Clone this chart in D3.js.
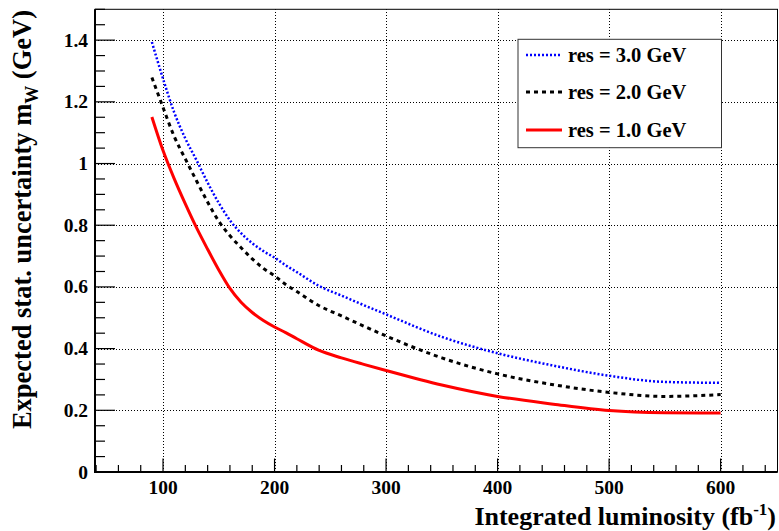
<!DOCTYPE html>
<html>
<head>
<meta charset="utf-8">
<script src="https://cdn.jsdelivr.net/npm/d3@7"></script>
<style>
  html, body { margin: 0; padding: 0; background: #fff; }
  svg { display: block; }
  text { font-family: "Liberation Serif", "Times New Roman", serif; font-weight: bold; fill: #000; }
</style>
</head>
<body>
<svg id="chart" width="779" height="531"></svg>
<script>
// ---- data ----
const lumi = [90, 100, 110, 120, 130, 140, 150, 160, 170, 180, 190, 200, 210, 220, 240, 260, 280, 300, 350, 400, 450, 500, 550, 600];
const res3 = [1.394, 1.275, 1.166, 1.081, 1.011, 0.938, 0.872, 0.816, 0.774, 0.742, 0.716, 0.695, 0.670, 0.648, 0.603, 0.572, 0.541, 0.511, 0.438, 0.385, 0.345, 0.312, 0.292, 0.289];
const res2 = [1.279, 1.182, 1.088, 1.015, 0.944, 0.875, 0.813, 0.766, 0.727, 0.691, 0.660, 0.636, 0.608, 0.585, 0.539, 0.506, 0.473, 0.441, 0.370, 0.318, 0.283, 0.258, 0.245, 0.251];
const res1 = [1.151, 1.042, 0.951, 0.869, 0.792, 0.722, 0.655, 0.595, 0.550, 0.517, 0.491, 0.470, 0.452, 0.432, 0.394, 0.370, 0.349, 0.329, 0.282, 0.245, 0.220, 0.199, 0.192, 0.191];
const seriesNames = ["res = 3.0 GeV", "res = 2.0 GeV", "res = 1.0 GeV"];
const xTicks = [100, 200, 300, 400, 500, 600];
const yTicks = [0, 0.2, 0.4, 0.6, 0.8, 1, 1.2, 1.4];
const xTitle = "Integrated luminosity (fb";
const yTitle = "Expected stat. uncertainty m";

// ---- layout ----
const svg = d3.select("#chart");
const L = 95, R = 777.5, T = 9.3, B = 472;
const x = d3.scaleLinear().domain([39, 651]).range([L, R]);
const y = d3.scaleLinear().domain([0, 1.5]).range([B, T]);
const px = v => Math.round(v) + 0.5;

// grid
const grid = svg.append("g");
grid.selectAll("line.gx").data(xTicks).join("line")
  .attr("x1", d => px(x(d))).attr("x2", d => px(x(d))).attr("y1", B).attr("y2", T)
  .attr("stroke", "#000").attr("stroke-width", 1).attr("stroke-dasharray", "1,2");
grid.selectAll("line.gy").data(yTicks.filter(d => d > 0)).join("line")
  .attr("x1", L).attr("x2", R).attr("y1", d => px(y(d))).attr("y2", d => px(y(d)))
  .attr("stroke", "#000").attr("stroke-width", 1).attr("stroke-dasharray", "1,2");

// curves
const styles = [
  { data: res3, color: "#0000ff", w: 2.5, dash: "2,2" },
  { data: res2, color: "#000000", w: 3, dash: "4,4" },
  { data: res1, color: "#ff0000", w: 3, dash: null }
];
const line = d3.line().x(d => x(d[0])).y(d => y(d[1])).curve(d3.curveMonotoneX);
styles.forEach(s => {
  svg.append("path")
    .attr("d", line(lumi.map((l, i) => [l, s.data[i]])))
    .attr("fill", "none").attr("stroke", s.color).attr("stroke-width", s.w)
    .attr("stroke-dasharray", s.dash);
});

// axes (ROOT-style inward ticks)
const xMinor = d3.range(40, 651, 20);
const yMinor = d3.range(0, 1.5001, 0.05);
const ax = svg.append("g");
ax.selectAll("line.xt").data(xMinor).join("line")
  .attr("x1", d => x(d)).attr("x2", d => x(d))
  .attr("y1", B).attr("y2", d => B - (Math.abs(d % 100) < 1e-6 ? 13.5 : 7))
  .attr("stroke", "#000").attr("stroke-width", 1.2);
ax.selectAll("line.yt").data(yMinor).join("line")
  .attr("y1", d => y(d)).attr("y2", d => y(d))
  .attr("x1", L).attr("x2", d => L + (Math.abs(Math.round(d * 20)) % 4 === 0 ? 20 : 10))
  .attr("stroke", "#000").attr("stroke-width", 1.2);

// frame
svg.append("rect").attr("x", L).attr("y", T).attr("width", R - L).attr("height", B - T)
  .attr("fill", "none").attr("stroke", "#000").attr("stroke-width", 1);
svg.append("line").attr("x1", L).attr("x2", L).attr("y1", T).attr("y2", B + 0.8).attr("stroke", "#000").attr("stroke-width", 2);
svg.append("line").attr("x1", L - 1).attr("x2", R).attr("y1", B).attr("y2", B).attr("stroke", "#000").attr("stroke-width", 2);

// tick labels
svg.selectAll("text.xl").data(xTicks).join("text")
  .attr("x", d => x(d)).attr("y", 494).attr("text-anchor", "middle")
  .attr("font-size", 19.5).text(d => d);
svg.selectAll("text.yl").data(yTicks).join("text")
  .attr("x", 88).attr("y", d => y(d) + 6.5).attr("text-anchor", "end")
  .attr("font-size", 19.5).text(d => d);

// axis titles
const xt = svg.append("text").attr("x", 776).attr("y", 525).attr("text-anchor", "end").attr("font-size", 26);
xt.append("tspan").text(xTitle);
xt.append("tspan").attr("dy", -10).attr("font-size", 17).text("-1");
xt.append("tspan").attr("dy", 10).text(")");

const yt = svg.append("text").attr("transform", "translate(31,10) rotate(-90)")
  .attr("text-anchor", "end").attr("font-size", 26.5);
yt.append("tspan").text(yTitle);
yt.append("tspan").attr("dy", 7).attr("font-size", 18).text("W");
yt.append("tspan").attr("dy", -7).text(" (GeV)");

// legend
const lg = svg.append("g");
lg.append("rect").attr("x", 518).attr("y", 39.3).attr("width", 203.5).attr("height", 108.4)
  .attr("fill", "#fff").attr("stroke", "#333").attr("stroke-width", 1);
const rowY = [55, 92, 130];
styles.forEach((s, i) => {
  lg.append("line").attr("x1", 526).attr("x2", 562).attr("y1", rowY[i]).attr("y2", rowY[i])
    .attr("stroke", s.color).attr("stroke-width", s.w).attr("stroke-dasharray", s.dash);
  lg.append("text").attr("x", 568).attr("y", rowY[i] + 7).attr("font-size", 20.5).text(seriesNames[i]);
});
</script>
</body>
</html>
